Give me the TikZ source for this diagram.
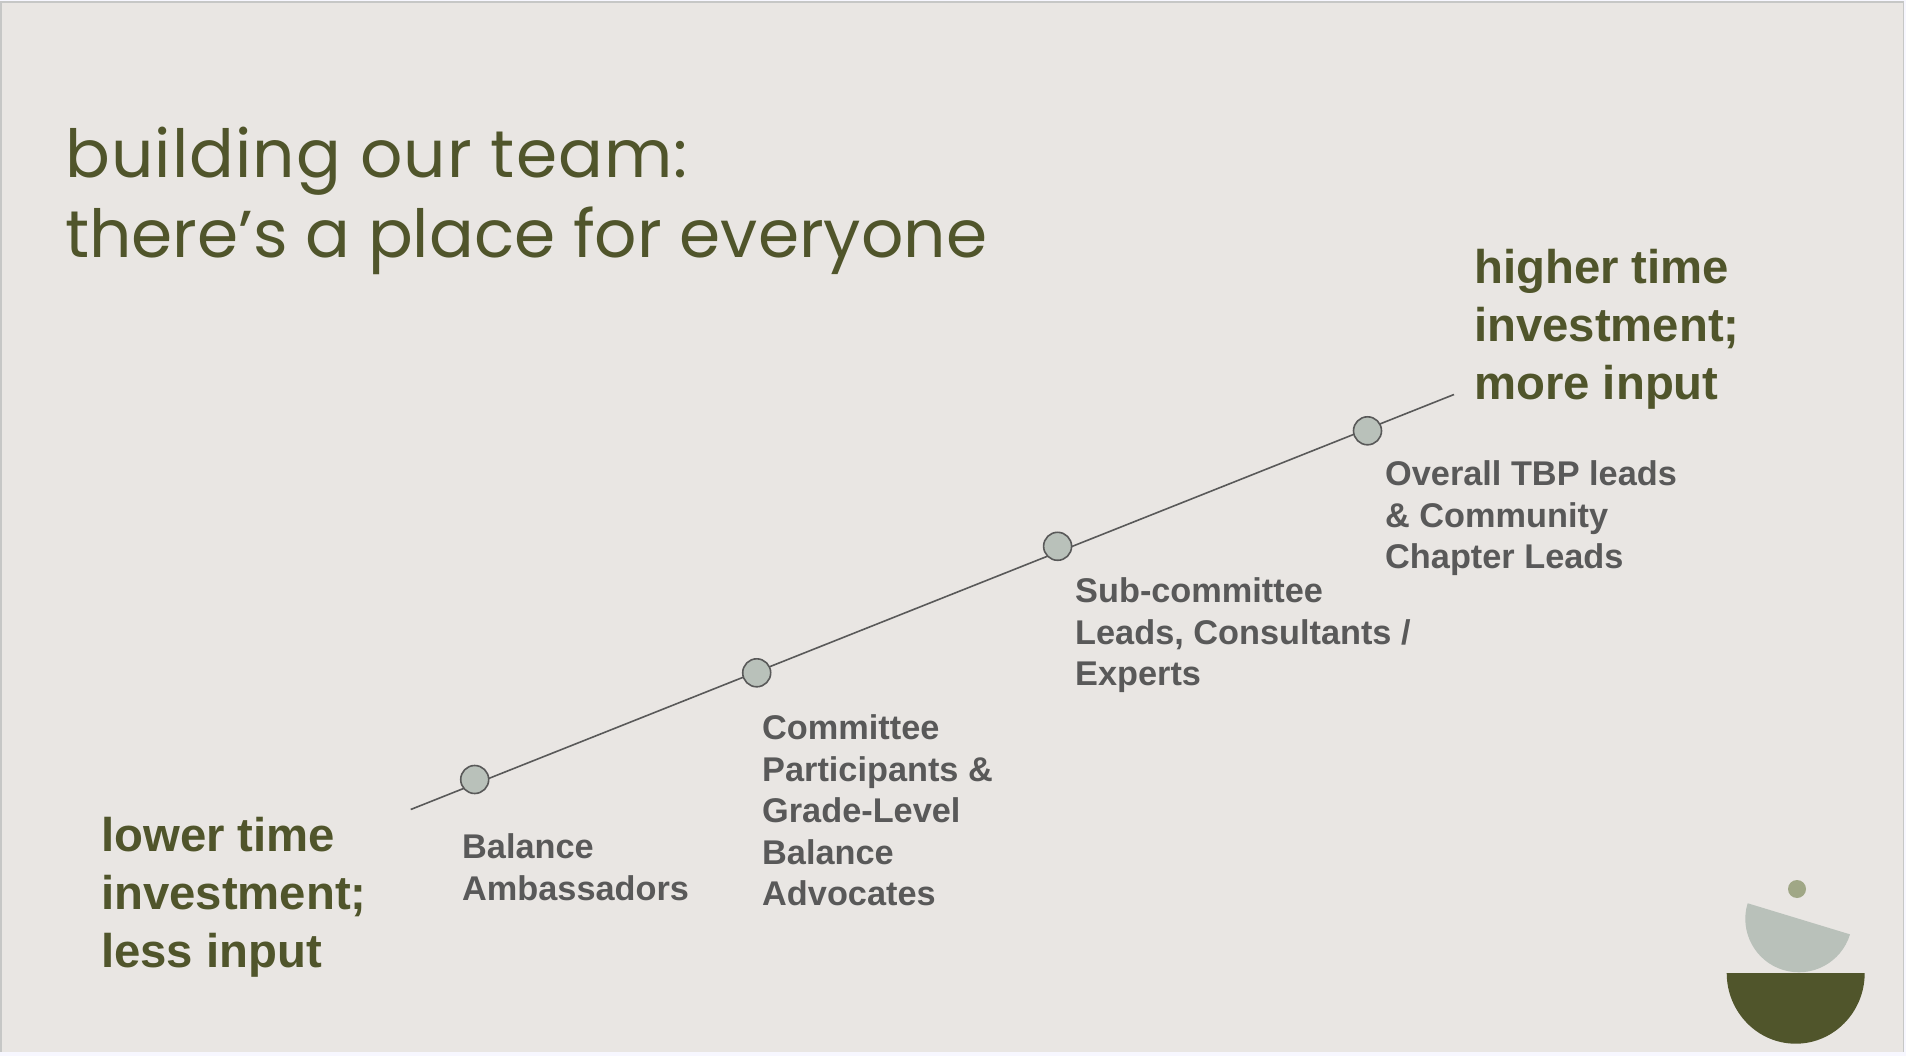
\documentclass[tikz,border=0pt]{standalone}
\usepackage{fontspec}
\setmainfont{Liberation Sans}
\newfontfamily\titlefont{Poppins}
\definecolor{bgc}{HTML}{E9E6E3}
\definecolor{oliveC}{HTML}{50552B}
\definecolor{greyT}{HTML}{595959}
\definecolor{sageC}{HTML}{B9C1BA}
\definecolor{dotC}{HTML}{A0A786}
\definecolor{frameC}{HTML}{C6C7C6}
\tikzset{
  dotnode/.style={circle,draw=greyT,line width=1.6pt,fill=sageC,minimum size=28pt,inner sep=0pt},
  role/.style={anchor=north west,inner sep=0pt,align=left,text=greyT,font=\fontsize{34.3}{41.6}\selectfont\bfseries},
  endlabel/.style={anchor=north west,inner sep=0pt,align=left,text=oliveC,font=\fontsize{47.3}{57.7}\selectfont\bfseries},
  titletext/.style={anchor=north west,inner sep=0pt,align=left,text=oliveC,font=\titlefont\fontsize{66.3}{80}\selectfont}
}
\begin{document}
\begin{tikzpicture}[x=1pt,y=-1pt]
\useasboundingbox (0,0) rectangle (1906,1056);
\fill[white!97!blue] (0,0) rectangle (1906,1056);
\fill[frameC] (0,1) rectangle (1904,1052);
\fill[bgc] (2,3.5) rectangle (1902.5,1052);
% title
\node[titletext] (title) at (65,127) {{\addfontfeature{LetterSpace=1.7}building our team:}\\there’s a place for everyone};
% timeline
\coordinate (lo) at (410.7,809.5);
\coordinate (hi) at (1454,394.5);
\draw[greyT,line width=1.6pt] (lo) -- (hi);
\node[dotnode] (d1) at (474.7,779.5) {};
\node[dotnode] (d2) at (756.7,672.8) {};
\node[dotnode] (d3) at (1057.6,546.3) {};
\node[dotnode] (d4) at (1367.5,430.8) {};
% labels
\node[role] (r1) at (462,833.5) {Balance\\Ambassadors};
\node[role] (r2) at (762,714.5) {Committee\\Participants \&\\Grade-Level\\Balance\\Advocates};
\node[role] (r3) at (1075,577.5) {Sub-committee\\Leads, Consultants /\\Experts};
\node[role] (r4) at (1385,460.5) {Overall TBP leads\\\& Community\\Chapter Leads};
\node[endlabel] (lowL) at (101,817.5) {lower time\\investment;\\less input};
\node[endlabel] (highL) at (1474,249.5) {higher time\\investment;\\more input};
% emblem
\fill[dotC] (1797,889) circle (9);
\begin{scope}[shift={(1798.8,918.8)},rotate=-16.9]
\fill[sageC] (-53.5,0) arc[start angle=180,end angle=0,x radius=53.5,y radius=53.5] -- cycle;
\end{scope}
\fill[oliveC] (1726.7,973) -- (1864.7,973) arc[start angle=0,end angle=180,x radius=69,y radius=70.7] -- cycle;
\end{tikzpicture}
\end{document}
